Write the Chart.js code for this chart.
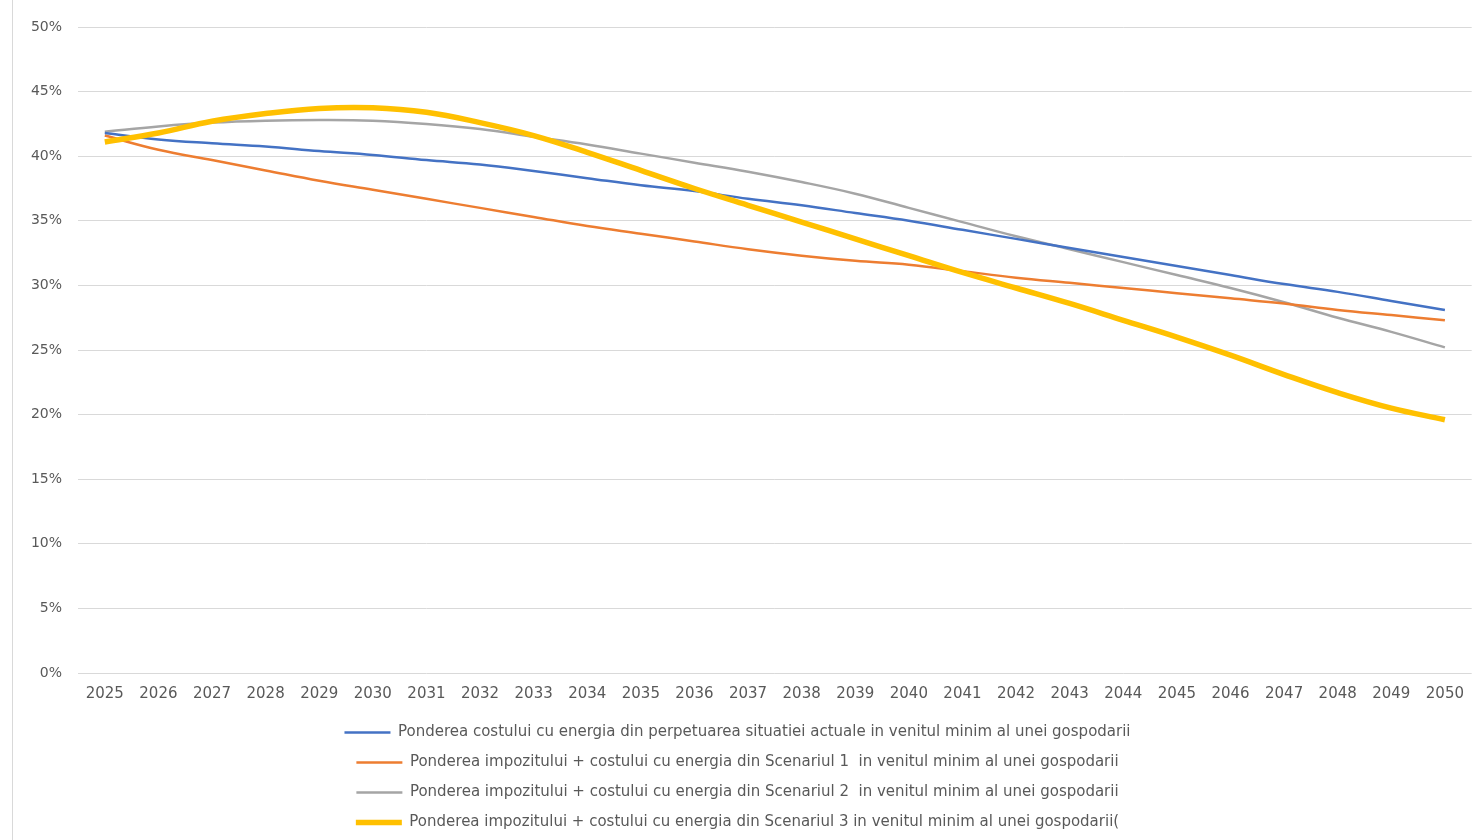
<!DOCTYPE html>
<html lang="ro">
<head>
<meta charset="utf-8">
<title>Ponderea costului cu energia</title>
<script src="https://cdn.jsdelivr.net/npm/chart.js@4"></script>
<style>
    body { margin: 0; background: #fff; }
    #cadru { position: relative; width: 1476px; height: 840px; }
    #linie { position: absolute; left: 12px; top: 0; width: 1px; height: 840px; background: #d9d9d9; }
</style>
</head>
<body>
<div id="cadru">
    <div id="linie"></div>
    <canvas id="grafic" width="1476" height="840"></canvas>
</div>
<script>
// Anii de pe axa X
const ani = ["2025", "2026", "2027", "2028", "2029", "2030", "2031", "2032", "2033", "2034", "2035", "2036", "2037",
    "2038", "2039", "2040", "2041", "2042", "2043", "2044", "2045", "2046", "2047", "2048", "2049", "2050"];

// Valorile seriilor (in %)
const situatieActuala = [41.8, 41.3, 41.0, 40.75, 40.4, 40.1, 39.7, 39.35, 38.85, 38.3, 37.75, 37.3, 36.7,
    36.2, 35.6, 35.0, 34.3, 33.6, 32.9, 32.2, 31.5, 30.8, 30.1, 29.5, 28.8, 28.1];
const scenariul1 = [41.6, 40.5, 39.7, 38.9, 38.1, 37.4, 36.7, 36.0, 35.3, 34.6, 34.0, 33.4, 32.8,
    32.3, 31.9, 31.6, 31.1, 30.6, 30.2, 29.8, 29.4, 29.0, 28.6, 28.1, 27.7, 27.3];
const scenariul2 = [41.9, 42.3, 42.6, 42.75, 42.8, 42.75, 42.5, 42.1, 41.5, 40.9, 40.2, 39.5, 38.8,
    38.0, 37.1, 36.0, 34.9, 33.8, 32.8, 31.8, 30.8, 29.8, 28.7, 27.5, 26.4, 25.2];
const scenariul3 = [41.1, 41.8, 42.7, 43.3, 43.7, 43.75, 43.4, 42.6, 41.6, 40.3, 38.9, 37.5, 36.2,
    34.9, 33.6, 32.3, 31.0, 29.8, 28.6, 27.3, 26.0, 24.6, 23.1, 21.7, 20.5, 19.6];

// Etichetele legendei
const etichete = [
    "Ponderea costului cu energia din perpetuarea situatiei actuale in venitul minim al unei gospodarii",
    "Ponderea impozitului + costului cu energia din Scenariul 1  in venitul minim al unei gospodarii",
    "Ponderea impozitului + costului cu energia din Scenariul 2  in venitul minim al unei gospodarii",
    "Ponderea impozitului + costului cu energia din Scenariul 3 in venitul minim al unei gospodarii("
];

// Valorile axei Y
const yMin = 0;
const yMax = 50;
const yPas = 5;

const culoareText = "#595959";
const culoareGrila = "#d9d9d9";

function serie(index, valori, culoare, grosime, ordine) {
    return {
        label: etichete[index],
        data: valori,
        borderColor: culoare,
        backgroundColor: culoare,
        borderWidth: grosime,
        pointRadius: 0,
        pointHoverRadius: 0,
        tension: 0.4,
        fill: false,
        order: ordine
    };
}

const ctx = document.getElementById("grafic").getContext("2d");
const chart = new Chart(ctx, {
    type: "line",
    data: {
        labels: ani,
        datasets: [
            serie(0, situatieActuala, "#4472C4", 2.5, 1),
            serie(1, scenariul1, "#ED7D31", 2.5, 1),
            serie(2, scenariul2, "#A5A5A5", 2.5, 1),
            serie(3, scenariul3, "#FFC000", 5.5, 0)
        ]
    },
    options: {
        responsive: false,
        animation: false,
        devicePixelRatio: 1,
        layout: {
            padding: { top: 27, right: 1, bottom: 0, left: 0 }
        },
        plugins: {
            tooltip: { enabled: false },
            legend: {
                position: "bottom",
                align: "center",
                labels: {
                    usePointStyle: true,
                    pointStyle: "line",
                    pointStyleWidth: 46,
                    padding: 15,
                    color: culoareText,
                    font: { family: "'DejaVu Sans'", size: 15 },
                    sort: (a, b) => a.datasetIndex - b.datasetIndex
                }
            }
        },
        scales: {
            x: {
                offset: true,
                grid: { display: false, drawTicks: false },
                border: { display: false },
                ticks: {
                    color: culoareText,
                    font: { family: "'DejaVu Sans'", size: 15 },
                    padding: 12,
                    maxRotation: 0,
                    autoSkip: false
                },
                afterFit: (scale) => { scale.height = 37; }
            },
            y: {
                min: yMin,
                max: yMax,
                grid: { color: culoareGrila, lineWidth: 1, drawTicks: false },
                border: { display: false },
                ticks: {
                    stepSize: yPas,
                    color: culoareText,
                    font: { family: "'DejaVu Sans'", size: 14 },
                    padding: 16,
                    callback: (v) => v + "%"
                },
                afterFit: (scale) => { scale.width = 78; }
            }
        }
    }
});
</script>
</body>
</html>
